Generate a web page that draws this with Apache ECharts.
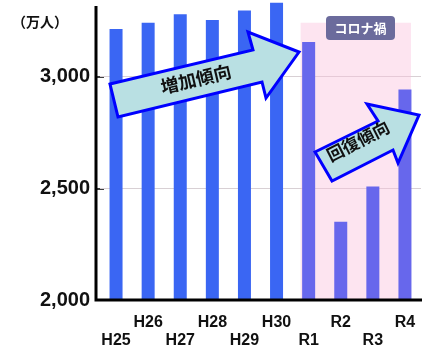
<!DOCTYPE html>
<html>
<head>
<meta charset="utf-8">
<script src="https://cdn.jsdelivr.net/npm/echarts@6/dist/echarts.min.js"></script>
<style>
  html, body { margin: 0; padding: 0; background: #ffffff; }
  #chart { width: 429px; height: 350px; }
</style>
</head>
<body>
<div id="chart"></div>
<script>
// Fiscal years (Heisei 25 – Reiwa 4) and visitor counts in units of 10,000 people
const categories = ['H25', 'H26', 'H27', 'H28', 'H29', 'H30', 'R1', 'R2', 'R3', 'R4'];
const visitors = [3212, 3241, 3279, 3253, 3295, 3330, 3154, 2350, 2508, 2942];
const yTicks = [2000, 2500, 3000];
const axisTopValue = 3316;
const firstReiwa = 'R1';
const lastReiwa = 'R4';
const covidTop = 3240;

const heiseiColor = '#3a66f3';
const reiwaColor = '#6767ec';
const latin = '"Liberation Sans", Arial, sans-serif';
const cjk = '"Noto Sans CJK JP", sans-serif';

const chart = echarts.init(document.getElementById('chart'), null, { renderer: 'canvas' });

const barData = visitors.map((v, i) => ({
  value: v,
  itemStyle: { color: i >= categories.indexOf(firstReiwa) ? reiwaColor : heiseiColor }
}));

chart.setOption({
  animation: false,
  backgroundColor: '#ffffff',
  grid: { left: 100, right: 8, top: 2.3, bottom: 48, containLabel: false },
  xAxis: {
    type: 'category',
    data: categories,
    axisLine: { show: false },
    axisTick: { show: false },
    axisLabel: {
      interval: 0,
      margin: 14,
      color: '#111',
      fontFamily: latin,
      fontWeight: 'bold',
      fontSize: 16,
      lineHeight: 18,
      // alternate labels between a lower and an upper row
      formatter: (value, index) => (index % 2 === 0 ? '\n' + value : value + '\n')
    }
  },
  yAxis: {
    type: 'value',
    min: 2000,
    max: 3332,
    interval: 500,
    offset: 4,
    axisLine: { show: false },
    axisTick: {
      show: true, inside: true, length: 8, customValues: yTicks,
      lineStyle: { color: '#000', width: 1.5 }
    },
    axisLabel: {
      customValues: yTicks,
      margin: 6,
      color: '#111',
      fontFamily: latin,
      fontWeight: 'bold',
      fontSize: 20,
      formatter: v => v.toLocaleString('en-US')
    },
    splitLine: { show: false }
  },
  series: [{
    type: 'bar',
    data: barData,
    barWidth: 13,
    z: 3,
    markLine: {
      silent: true,
      symbol: 'none',
      label: { show: false },
      lineStyle: { color: '#d8d0d4', width: 1, type: 'solid' },
      z: 1,
      data: yTicks.slice(1).map(v => ({ yAxis: v }))
    }
  }]
});

// Axis frame, shaded COVID period, badge, trend arrows and unit caption
const grid = chart.getModel().getComponent('grid', 0).coordinateSystem.getRect();
const r1 = chart.convertToPixel({ xAxisIndex: 0 }, firstReiwa);
const r4 = chart.convertToPixel({ xAxisIndex: 0 }, lastReiwa);
const yTop = chart.convertToPixel({ yAxisIndex: 0 }, covidTop);
const yBase = chart.convertToPixel({ yAxisIndex: 0 }, yTicks[0]);
const yAxisTop = chart.convertToPixel({ yAxisIndex: 0 }, axisTopValue);
const yAxisX = grid.x - 4;
const shadeLeft = r1 - 8;
const shadeRight = r4 + 6;

chart.setOption({
  graphic: [
    {
      type: 'rect', z: 1, silent: true,
      shape: { x: shadeLeft, y: yTop, width: shadeRight - shadeLeft, height: yBase - yTop },
      style: { fill: 'rgba(250, 190, 220, 0.42)' }
    },
    {
      type: 'polyline', z: 15, silent: true,
      shape: { points: [[yAxisX, yAxisTop], [yAxisX, yBase], [grid.x + grid.width + 1, yBase]] },
      style: { stroke: '#000', lineWidth: 3, fill: null, lineJoin: 'miter' }
    },
    {
      type: 'rect', z: 10,
      shape: { x: 326, y: 16, width: 69, height: 24, r: 4 },
      style: { fill: '#6b6b9c' }
    },
    {
      type: 'text', z: 11, x: 360.5, y: 28,
      style: {
        text: 'コロナ禍', fill: '#ffffff', font: 'bold 13px ' + cjk,
        align: 'center', verticalAlign: 'middle'
      }
    },
    {
      type: 'polygon', z: 20,
      shape: { points: [[110, 84], [253, 50], [248, 32], [299, 52], [266, 98], [262, 82], [118, 117]] },
      style: { fill: '#b9e0e3', stroke: '#0000ff', lineWidth: 3, lineJoin: 'miter' }
    },
    {
      type: 'text', z: 21, x: 196, y: 79, rotation: 13.4 * Math.PI / 180,
      style: {
        text: '増加傾向', fill: '#111', font: 'bold 18px ' + cjk,
        align: 'center', verticalAlign: 'middle'
      }
    },
    {
      type: 'polygon', z: 20,
      shape: { points: [[315, 152], [378, 121], [367, 104], [419, 115], [398, 163], [393, 150], [332, 181]] },
      style: { fill: '#b9e0e3', stroke: '#0000ff', lineWidth: 3, lineJoin: 'miter' }
    },
    {
      type: 'text', z: 21, x: 358, y: 141, rotation: 27 * Math.PI / 180,
      style: {
        text: '回復傾向', fill: '#111', font: 'bold 17px ' + cjk,
        align: 'center', verticalAlign: 'middle'
      }
    },
    {
      type: 'text', z: 5, x: 12, y: 22,
      style: {
        text: '（万人）', fill: '#111', font: 'bold 14px ' + cjk,
        align: 'left', verticalAlign: 'middle'
      }
    }
  ]
});
</script>
</body>
</html>
